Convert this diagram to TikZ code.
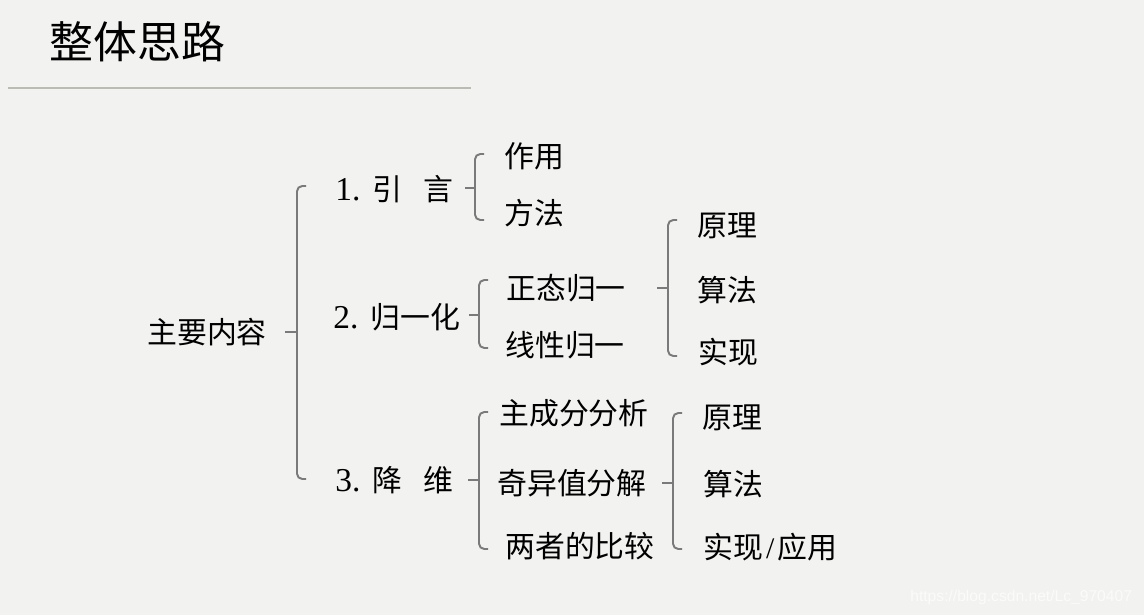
\documentclass[tikz,border=0pt]{standalone}
\usepackage{fontspec}
\setmainfont{Liberation Serif}
\newfontfamily\cjk{Noto Sans CJK SC}
\newfontfamily\wmfont{Liberation Sans}
\definecolor{bg}{HTML}{F2F2F0}
\definecolor{brkgray}{HTML}{7A7A7A}
\definecolor{rulegray}{HTML}{BBBBB5}
\definecolor{wm}{HTML}{FBFBFA}
\tikzset{
  lbl/.style={anchor=west, inner sep=0pt, font=\fontsize{17pt}{20pt}\selectfont\cjk, text=black},
  title/.style={anchor=west, inner sep=0pt, font=\fontsize{25pt}{30pt}\selectfont\cjk, text=black},
  brk/.style={draw=brkgray, line width=1.1pt, rounded corners=3pt},
  tick/.style={draw=brkgray, line width=1.1pt},
}
\newcommand\num[1]{{\rmfamily\fontsize{19pt}{20pt}\selectfont #1}}
% bracket: x, top, mid, bottom, tick start (left)
\newcommand\mybrk[5]{%
  \draw[brk] (#1+9,#2) -- (#1,#2) -- (#1,#4) -- (#1+9,#4);
  \draw[tick] (#5,#3) -- (#1,#3);
}
\begin{document}
\begin{tikzpicture}[x=0.02cm,y=-0.02cm]
\fill[bg] (0,0) rectangle (1144,615);
\useasboundingbox (0,0) rectangle (1144,615);

\node[title] (title) at (49,42) {整体思路};
\draw[rulegray, line width=1.3pt] (8,88) -- (471,88);

\node[lbl] (main) at (147,332) {主要内容};
\mybrk{297}{186}{332}{479}{285}

\node[lbl] (n1) at (335,189) {\num{1.}\hspace{0.4em}引\hspace{0.7em}言};
\node[lbl] (n2) at (333,317) {\num{2.}\hspace{0.4em}归一化};
\node[lbl] (n3) at (335,480) {\num{3.}\hspace{0.4em}降\hspace{0.7em}维};

\mybrk{475}{154}{188}{220}{465}
\node[lbl] (a1) at (504,156) {作用};
\node[lbl] (a2) at (504,213) {方法};

\mybrk{479}{280}{315}{348}{469}
\node[lbl] (b1) at (506,288) {正态归一};
\node[lbl] (b2) at (505,345) {线性归一};

\mybrk{668}{220}{288}{356}{657}
\node[lbl] (c1) at (697,226) {原理};
\node[lbl] (c2) at (697,290) {算法};
\node[lbl] (c3) at (698,352) {实现};

\mybrk{479}{412}{480}{549}{468}
\node[lbl] (d1) at (499,413) {主成分分析};
\node[lbl] (d2) at (497,483) {奇异值分解};
\node[lbl] (d3) at (505,546) {两者的比较};

\mybrk{673}{413}{483}{549}{662}
\node[lbl] (e1) at (702,418) {原理};
\node[lbl] (e2) at (703,484) {算法};
\node[lbl] (e3) at (703,547) {实现\hspace{0.1em}{\rmfamily /}\hspace{0.1em}应用};

\node[anchor=west, inner sep=0pt, font=\fontsize{8.9pt}{10pt}\selectfont\wmfont, text=wm] (wm) at (910,597) {https://blog.csdn.net/Lc\_970407};
\end{tikzpicture}
\end{document}
